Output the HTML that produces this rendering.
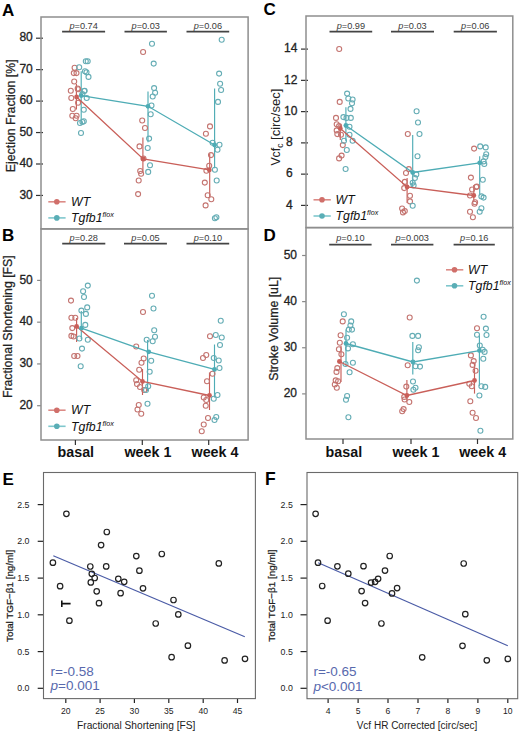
<!DOCTYPE html>
<html><head><meta charset="utf-8"><style>
html,body{margin:0;padding:0;background:#fff;}
body{width:520px;height:733px;overflow:hidden;font-family:"Liberation Sans",sans-serif;}
svg{display:block;font-family:"Liberation Sans",sans-serif;}
</style></head><body>
<svg width="520" height="733" viewBox="0 0 520 733" font-family="Liberation Sans, sans-serif">
<rect width="520" height="733" fill="#fff"/>
<text x="2" y="15.9" font-size="17" font-weight="bold" fill="#000">A</text>
<text x="263.6" y="15.3" font-size="17" font-weight="bold" fill="#000">C</text>
<text x="2" y="241.2" font-size="17" font-weight="bold" fill="#000">B</text>
<text x="263.6" y="240.9" font-size="17" font-weight="bold" fill="#000">D</text>
<text x="2.6" y="484.7" font-size="17" font-weight="bold" fill="#000">E</text>
<text x="264.9" y="484.8" font-size="17.5" font-weight="bold" fill="#000">F</text>
<line x1="36" y1="38.20" x2="43" y2="38.20" stroke="#333" stroke-width="1.2"/>
<text x="32.8" y="41.42" font-size="12" text-anchor="end" fill="#222" stroke="#222" stroke-width="0.3">80</text>
<line x1="36" y1="69.65" x2="43" y2="69.65" stroke="#333" stroke-width="1.2"/>
<text x="32.8" y="72.87" font-size="12" text-anchor="end" fill="#222" stroke="#222" stroke-width="0.3">70</text>
<line x1="36" y1="101.10" x2="43" y2="101.10" stroke="#333" stroke-width="1.2"/>
<text x="32.8" y="104.32" font-size="12" text-anchor="end" fill="#222" stroke="#222" stroke-width="0.3">60</text>
<line x1="36" y1="132.55" x2="43" y2="132.55" stroke="#333" stroke-width="1.2"/>
<text x="32.8" y="135.77" font-size="12" text-anchor="end" fill="#222" stroke="#222" stroke-width="0.3">50</text>
<line x1="36" y1="164.00" x2="43" y2="164.00" stroke="#333" stroke-width="1.2"/>
<text x="32.8" y="167.22" font-size="12" text-anchor="end" fill="#222" stroke="#222" stroke-width="0.3">40</text>
<line x1="36" y1="195.45" x2="43" y2="195.45" stroke="#333" stroke-width="1.2"/>
<text x="32.8" y="198.67" font-size="12" text-anchor="end" fill="#222" stroke="#222" stroke-width="0.3">30</text>
<text x="0" y="0" transform="translate(14.7,115.8) rotate(-90)" font-size="12.3" text-anchor="middle" fill="#222" stroke="#222" stroke-width="0.25">Ejection Fraction [%]</text>
<line x1="62.1" y1="31.7" x2="105.1" y2="31.7" stroke="#444" stroke-width="1.7"/>
<text x="83.6" y="29.3" font-size="9.2" text-anchor="middle" fill="#3a3a3a"><tspan font-style="italic">p</tspan>=0.74</text>
<line x1="124.5" y1="31.7" x2="166.9" y2="31.7" stroke="#444" stroke-width="1.7"/>
<text x="145.7" y="29.3" font-size="9.2" text-anchor="middle" fill="#3a3a3a"><tspan font-style="italic">p</tspan>=0.03</text>
<line x1="186.5" y1="31.7" x2="229.2" y2="31.7" stroke="#444" stroke-width="1.7"/>
<text x="207.85" y="29.3" font-size="9.2" text-anchor="middle" fill="#3a3a3a"><tspan font-style="italic">p</tspan>=0.06</text>
<line x1="81.2" y1="71.2" x2="81.2" y2="124.2" stroke="#4eacb5" stroke-width="1.15"/>
<line x1="76.4" y1="84" x2="76.4" y2="109.5" stroke="#c95f59" stroke-width="1.15"/>
<line x1="148" y1="91.4" x2="148" y2="142.3" stroke="#4eacb5" stroke-width="1.15"/>
<line x1="142.9" y1="137.5" x2="142.9" y2="172.3" stroke="#c95f59" stroke-width="1.15"/>
<line x1="214.6" y1="88.4" x2="214.6" y2="168.2" stroke="#4eacb5" stroke-width="1.15"/>
<line x1="209.7" y1="153.4" x2="209.7" y2="196.9" stroke="#c95f59" stroke-width="1.15"/>
<circle cx="74.6" cy="67.7" r="2.5" fill="none" stroke="#c47470" stroke-width="1.1"/>
<circle cx="73.8" cy="73.1" r="2.5" fill="none" stroke="#c47470" stroke-width="1.1"/>
<circle cx="76.5" cy="73.1" r="2.5" fill="none" stroke="#c47470" stroke-width="1.1"/>
<circle cx="74.2" cy="81.5" r="2.5" fill="none" stroke="#c47470" stroke-width="1.1"/>
<circle cx="77.7" cy="88.5" r="2.5" fill="none" stroke="#c47470" stroke-width="1.1"/>
<circle cx="70.8" cy="90.8" r="2.5" fill="none" stroke="#c47470" stroke-width="1.1"/>
<circle cx="78.1" cy="89.3" r="2.5" fill="none" stroke="#c47470" stroke-width="1.1"/>
<circle cx="71.3" cy="98" r="2.5" fill="none" stroke="#c47470" stroke-width="1.1"/>
<circle cx="78.1" cy="102.8" r="2.5" fill="none" stroke="#c47470" stroke-width="1.1"/>
<circle cx="72.8" cy="109" r="2.5" fill="none" stroke="#c47470" stroke-width="1.1"/>
<circle cx="72.3" cy="115.8" r="2.5" fill="none" stroke="#c47470" stroke-width="1.1"/>
<circle cx="76.6" cy="115.8" r="2.5" fill="none" stroke="#c47470" stroke-width="1.1"/>
<circle cx="75.7" cy="118.2" r="2.5" fill="none" stroke="#c47470" stroke-width="1.1"/>
<circle cx="143.1" cy="52" r="2.5" fill="none" stroke="#c47470" stroke-width="1.1"/>
<circle cx="142.2" cy="120.5" r="2.5" fill="none" stroke="#c47470" stroke-width="1.1"/>
<circle cx="145" cy="128" r="2.5" fill="none" stroke="#c47470" stroke-width="1.1"/>
<circle cx="139.5" cy="146.4" r="2.5" fill="none" stroke="#c47470" stroke-width="1.1"/>
<circle cx="143.5" cy="158.5" r="2.5" fill="none" stroke="#c47470" stroke-width="1.1"/>
<circle cx="140.2" cy="171" r="2.5" fill="none" stroke="#c47470" stroke-width="1.1"/>
<circle cx="141.1" cy="173.7" r="2.5" fill="none" stroke="#c47470" stroke-width="1.1"/>
<circle cx="138.7" cy="180.5" r="2.5" fill="none" stroke="#c47470" stroke-width="1.1"/>
<circle cx="138.1" cy="194.1" r="2.5" fill="none" stroke="#c47470" stroke-width="1.1"/>
<circle cx="210" cy="126.4" r="2.5" fill="none" stroke="#c47470" stroke-width="1.1"/>
<circle cx="205.9" cy="133.8" r="2.5" fill="none" stroke="#c47470" stroke-width="1.1"/>
<circle cx="211" cy="155.1" r="2.5" fill="none" stroke="#c47470" stroke-width="1.1"/>
<circle cx="209.2" cy="165.7" r="2.5" fill="none" stroke="#c47470" stroke-width="1.1"/>
<circle cx="206.4" cy="170.7" r="2.5" fill="none" stroke="#c47470" stroke-width="1.1"/>
<circle cx="204.8" cy="182.6" r="2.5" fill="none" stroke="#c47470" stroke-width="1.1"/>
<circle cx="207.7" cy="195.2" r="2.5" fill="none" stroke="#c47470" stroke-width="1.1"/>
<circle cx="211.3" cy="199.3" r="2.5" fill="none" stroke="#c47470" stroke-width="1.1"/>
<circle cx="205.6" cy="205.4" r="2.5" fill="none" stroke="#c47470" stroke-width="1.1"/>
<circle cx="85.8" cy="61.2" r="2.5" fill="none" stroke="#65adb5" stroke-width="1.1"/>
<circle cx="87.7" cy="61.2" r="2.5" fill="none" stroke="#65adb5" stroke-width="1.1"/>
<circle cx="79.2" cy="67.3" r="2.5" fill="none" stroke="#65adb5" stroke-width="1.1"/>
<circle cx="85" cy="71.2" r="2.5" fill="none" stroke="#65adb5" stroke-width="1.1"/>
<circle cx="86.5" cy="72.3" r="2.5" fill="none" stroke="#65adb5" stroke-width="1.1"/>
<circle cx="88.5" cy="76.9" r="2.5" fill="none" stroke="#65adb5" stroke-width="1.1"/>
<circle cx="84.6" cy="90.8" r="2.5" fill="none" stroke="#65adb5" stroke-width="1.1"/>
<circle cx="84.3" cy="91" r="2.5" fill="none" stroke="#65adb5" stroke-width="1.1"/>
<circle cx="82.4" cy="94.1" r="2.5" fill="none" stroke="#65adb5" stroke-width="1.1"/>
<circle cx="86.7" cy="98" r="2.5" fill="none" stroke="#65adb5" stroke-width="1.1"/>
<circle cx="83.8" cy="109.8" r="2.5" fill="none" stroke="#65adb5" stroke-width="1.1"/>
<circle cx="80" cy="123" r="2.5" fill="none" stroke="#65adb5" stroke-width="1.1"/>
<circle cx="82.4" cy="122" r="2.5" fill="none" stroke="#65adb5" stroke-width="1.1"/>
<circle cx="83.8" cy="121.3" r="2.5" fill="none" stroke="#65adb5" stroke-width="1.1"/>
<circle cx="81" cy="133" r="2.5" fill="none" stroke="#65adb5" stroke-width="1.1"/>
<circle cx="152" cy="43.7" r="2.5" fill="none" stroke="#65adb5" stroke-width="1.1"/>
<circle cx="153.7" cy="63.6" r="2.5" fill="none" stroke="#65adb5" stroke-width="1.1"/>
<circle cx="154.1" cy="88.1" r="2.5" fill="none" stroke="#65adb5" stroke-width="1.1"/>
<circle cx="155.1" cy="92.7" r="2.5" fill="none" stroke="#65adb5" stroke-width="1.1"/>
<circle cx="152.7" cy="96.5" r="2.5" fill="none" stroke="#65adb5" stroke-width="1.1"/>
<circle cx="151.5" cy="105.5" r="2.5" fill="none" stroke="#65adb5" stroke-width="1.1"/>
<circle cx="150.7" cy="114.3" r="2.5" fill="none" stroke="#65adb5" stroke-width="1.1"/>
<circle cx="149.1" cy="138.6" r="2.5" fill="none" stroke="#65adb5" stroke-width="1.1"/>
<circle cx="147.7" cy="148" r="2.5" fill="none" stroke="#65adb5" stroke-width="1.1"/>
<circle cx="150" cy="165.2" r="2.5" fill="none" stroke="#65adb5" stroke-width="1.1"/>
<circle cx="148.2" cy="171.9" r="2.5" fill="none" stroke="#65adb5" stroke-width="1.1"/>
<circle cx="221.7" cy="39.8" r="2.5" fill="none" stroke="#65adb5" stroke-width="1.1"/>
<circle cx="219.1" cy="73.6" r="2.5" fill="none" stroke="#65adb5" stroke-width="1.1"/>
<circle cx="220.1" cy="83.8" r="2.5" fill="none" stroke="#65adb5" stroke-width="1.1"/>
<circle cx="221.1" cy="90" r="2.5" fill="none" stroke="#65adb5" stroke-width="1.1"/>
<circle cx="218" cy="101.9" r="2.5" fill="none" stroke="#65adb5" stroke-width="1.1"/>
<circle cx="212.6" cy="142.8" r="2.5" fill="none" stroke="#65adb5" stroke-width="1.1"/>
<circle cx="219.5" cy="144.8" r="2.5" fill="none" stroke="#65adb5" stroke-width="1.1"/>
<circle cx="217.5" cy="149.8" r="2.5" fill="none" stroke="#65adb5" stroke-width="1.1"/>
<circle cx="214.9" cy="169.8" r="2.5" fill="none" stroke="#65adb5" stroke-width="1.1"/>
<circle cx="216.7" cy="180.5" r="2.5" fill="none" stroke="#65adb5" stroke-width="1.1"/>
<circle cx="214.9" cy="218.2" r="2.5" fill="none" stroke="#65adb5" stroke-width="1.1"/>
<circle cx="216.4" cy="217.2" r="2.5" fill="none" stroke="#65adb5" stroke-width="1.1"/>
<polyline points="81.2,95.6 148,106.3 214.6,145" fill="none" stroke="#4eacb5" stroke-width="1.3"/>
<polyline points="76.6,97 143.2,158.9 209.3,169.9" fill="none" stroke="#c95f59" stroke-width="1.3"/>
<circle cx="81.2" cy="95.6" r="2.4" fill="#4eacb5"/>
<circle cx="148" cy="106.3" r="2.4" fill="#4eacb5"/>
<circle cx="214.6" cy="145" r="2.4" fill="#4eacb5"/>
<circle cx="76.6" cy="97" r="2.4" fill="#c95f59"/>
<circle cx="143.2" cy="158.9" r="2.4" fill="#c95f59"/>
<circle cx="209.3" cy="169.9" r="2.4" fill="#c95f59"/>
<line x1="48.3" y1="201.8" x2="65.6" y2="201.8" stroke="#dc8b86" stroke-width="1.6"/>
<circle cx="56.8" cy="201.8" r="2.8" fill="#d06f6a"/>
<line x1="48.3" y1="217.9" x2="65.6" y2="217.9" stroke="#7fc7cd" stroke-width="1.6"/>
<circle cx="56.8" cy="217.9" r="2.8" fill="#5aaeb6"/>
<text x="71.1" y="206.0" font-size="12.3" font-style="italic" fill="#111">WT</text>
<text x="71.1" y="222.1" font-size="12.3" font-style="italic" fill="#111">Tgfb1<tspan font-size="7.2" dy="-5">flox</tspan></text>
<rect x="41" y="17" width="207.10" height="211.90" fill="none" stroke="#8e8e8e" stroke-width="1.5"/>
<line x1="37.1" y1="280.40" x2="41" y2="280.40" stroke="#888" stroke-width="1.2"/>
<text x="32.8" y="283.62" font-size="12" text-anchor="end" fill="#222" stroke="#222" stroke-width="0.3">50</text>
<line x1="37.1" y1="322.17" x2="41" y2="322.17" stroke="#888" stroke-width="1.2"/>
<text x="32.8" y="325.39" font-size="12" text-anchor="end" fill="#222" stroke="#222" stroke-width="0.3">40</text>
<line x1="37.1" y1="363.94" x2="41" y2="363.94" stroke="#888" stroke-width="1.2"/>
<text x="32.8" y="367.16" font-size="12" text-anchor="end" fill="#222" stroke="#222" stroke-width="0.3">30</text>
<line x1="37.1" y1="405.71" x2="41" y2="405.71" stroke="#888" stroke-width="1.2"/>
<text x="32.8" y="408.93" font-size="12" text-anchor="end" fill="#222" stroke="#222" stroke-width="0.3">20</text>
<text x="0" y="0" transform="translate(11.6,326.7) rotate(-90)" font-size="12.3" text-anchor="middle" fill="#222" stroke="#222" stroke-width="0.25">Fractional Shortening [FS]</text>
<line x1="62.2" y1="243.6" x2="105.3" y2="243.6" stroke="#444" stroke-width="1.7"/>
<text x="83.75" y="241.2" font-size="9.2" text-anchor="middle" fill="#3a3a3a"><tspan font-style="italic">p</tspan>=0.28</text>
<line x1="124" y1="243.6" x2="166.9" y2="243.6" stroke="#444" stroke-width="1.7"/>
<text x="145.45" y="241.2" font-size="9.2" text-anchor="middle" fill="#3a3a3a"><tspan font-style="italic">p</tspan>=0.05</text>
<line x1="186.5" y1="243.6" x2="229.2" y2="243.6" stroke="#444" stroke-width="1.7"/>
<text x="207.85" y="241.2" font-size="9.2" text-anchor="middle" fill="#3a3a3a"><tspan font-style="italic">p</tspan>=0.10</text>
<line x1="81.3" y1="311" x2="81.3" y2="339" stroke="#4eacb5" stroke-width="1.15"/>
<line x1="76.6" y1="318" x2="76.6" y2="342" stroke="#c95f59" stroke-width="1.15"/>
<line x1="147.6" y1="340" x2="147.6" y2="391" stroke="#4eacb5" stroke-width="1.15"/>
<line x1="142.5" y1="369" x2="142.5" y2="395" stroke="#c95f59" stroke-width="1.15"/>
<line x1="214.5" y1="344.5" x2="214.5" y2="397.5" stroke="#4eacb5" stroke-width="1.15"/>
<line x1="209.5" y1="372.5" x2="209.5" y2="410" stroke="#c95f59" stroke-width="1.15"/>
<circle cx="71" cy="300.6" r="2.5" fill="none" stroke="#c47470" stroke-width="1.1"/>
<circle cx="71.4" cy="317.7" r="2.5" fill="none" stroke="#c47470" stroke-width="1.1"/>
<circle cx="75.3" cy="317.7" r="2.5" fill="none" stroke="#c47470" stroke-width="1.1"/>
<circle cx="72.3" cy="328.1" r="2.5" fill="none" stroke="#c47470" stroke-width="1.1"/>
<circle cx="71.4" cy="335.9" r="2.5" fill="none" stroke="#c47470" stroke-width="1.1"/>
<circle cx="73.6" cy="336.5" r="2.5" fill="none" stroke="#c47470" stroke-width="1.1"/>
<circle cx="74.2" cy="356" r="2.5" fill="none" stroke="#c47470" stroke-width="1.1"/>
<circle cx="77.5" cy="356" r="2.5" fill="none" stroke="#c47470" stroke-width="1.1"/>
<circle cx="143" cy="312" r="2.5" fill="none" stroke="#c47470" stroke-width="1.1"/>
<circle cx="136.2" cy="346.5" r="2.5" fill="none" stroke="#c47470" stroke-width="1.1"/>
<circle cx="143.7" cy="358.5" r="2.5" fill="none" stroke="#c47470" stroke-width="1.1"/>
<circle cx="141.5" cy="362.7" r="2.5" fill="none" stroke="#c47470" stroke-width="1.1"/>
<circle cx="139.2" cy="369.7" r="2.5" fill="none" stroke="#c47470" stroke-width="1.1"/>
<circle cx="136.2" cy="380.2" r="2.5" fill="none" stroke="#c47470" stroke-width="1.1"/>
<circle cx="137" cy="384" r="2.5" fill="none" stroke="#c47470" stroke-width="1.1"/>
<circle cx="140" cy="387" r="2.5" fill="none" stroke="#c47470" stroke-width="1.1"/>
<circle cx="144.2" cy="390" r="2.5" fill="none" stroke="#c47470" stroke-width="1.1"/>
<circle cx="138.75" cy="405" r="2.5" fill="none" stroke="#c47470" stroke-width="1.1"/>
<circle cx="137.5" cy="409.5" r="2.5" fill="none" stroke="#c47470" stroke-width="1.1"/>
<circle cx="141.25" cy="413.75" r="2.5" fill="none" stroke="#c47470" stroke-width="1.1"/>
<circle cx="210" cy="336.25" r="2.5" fill="none" stroke="#c47470" stroke-width="1.1"/>
<circle cx="206.25" cy="355" r="2.5" fill="none" stroke="#c47470" stroke-width="1.1"/>
<circle cx="203" cy="358" r="2.5" fill="none" stroke="#c47470" stroke-width="1.1"/>
<circle cx="212.5" cy="373.75" r="2.5" fill="none" stroke="#c47470" stroke-width="1.1"/>
<circle cx="207" cy="381.25" r="2.5" fill="none" stroke="#c47470" stroke-width="1.1"/>
<circle cx="203.75" cy="397.5" r="2.5" fill="none" stroke="#c47470" stroke-width="1.1"/>
<circle cx="206.25" cy="400" r="2.5" fill="none" stroke="#c47470" stroke-width="1.1"/>
<circle cx="205.75" cy="405.75" r="2.5" fill="none" stroke="#c47470" stroke-width="1.1"/>
<circle cx="208" cy="418" r="2.5" fill="none" stroke="#c47470" stroke-width="1.1"/>
<circle cx="203.75" cy="424.5" r="2.5" fill="none" stroke="#c47470" stroke-width="1.1"/>
<circle cx="201.75" cy="431.25" r="2.5" fill="none" stroke="#c47470" stroke-width="1.1"/>
<circle cx="87.8" cy="285.6" r="2.5" fill="none" stroke="#65adb5" stroke-width="1.1"/>
<circle cx="83.1" cy="291.2" r="2.5" fill="none" stroke="#65adb5" stroke-width="1.1"/>
<circle cx="84" cy="297" r="2.5" fill="none" stroke="#65adb5" stroke-width="1.1"/>
<circle cx="87.2" cy="307.4" r="2.5" fill="none" stroke="#65adb5" stroke-width="1.1"/>
<circle cx="81.4" cy="310.6" r="2.5" fill="none" stroke="#65adb5" stroke-width="1.1"/>
<circle cx="85.9" cy="313.9" r="2.5" fill="none" stroke="#65adb5" stroke-width="1.1"/>
<circle cx="85.3" cy="324.9" r="2.5" fill="none" stroke="#65adb5" stroke-width="1.1"/>
<circle cx="79.4" cy="338.5" r="2.5" fill="none" stroke="#65adb5" stroke-width="1.1"/>
<circle cx="87.8" cy="339.8" r="2.5" fill="none" stroke="#65adb5" stroke-width="1.1"/>
<circle cx="82" cy="348.6" r="2.5" fill="none" stroke="#65adb5" stroke-width="1.1"/>
<circle cx="80.7" cy="366.3" r="2.5" fill="none" stroke="#65adb5" stroke-width="1.1"/>
<circle cx="152" cy="295.8" r="2.5" fill="none" stroke="#65adb5" stroke-width="1.1"/>
<circle cx="153.5" cy="308.5" r="2.5" fill="none" stroke="#65adb5" stroke-width="1.1"/>
<circle cx="154.2" cy="330.3" r="2.5" fill="none" stroke="#65adb5" stroke-width="1.1"/>
<circle cx="155" cy="336.7" r="2.5" fill="none" stroke="#65adb5" stroke-width="1.1"/>
<circle cx="152.7" cy="341.2" r="2.5" fill="none" stroke="#65adb5" stroke-width="1.1"/>
<circle cx="146.7" cy="339.7" r="2.5" fill="none" stroke="#65adb5" stroke-width="1.1"/>
<circle cx="151.2" cy="360.7" r="2.5" fill="none" stroke="#65adb5" stroke-width="1.1"/>
<circle cx="149.7" cy="371.7" r="2.5" fill="none" stroke="#65adb5" stroke-width="1.1"/>
<circle cx="148.2" cy="386.2" r="2.5" fill="none" stroke="#65adb5" stroke-width="1.1"/>
<circle cx="146" cy="390" r="2.5" fill="none" stroke="#65adb5" stroke-width="1.1"/>
<circle cx="147.5" cy="403.75" r="2.5" fill="none" stroke="#65adb5" stroke-width="1.1"/>
<circle cx="220.75" cy="320.75" r="2.5" fill="none" stroke="#65adb5" stroke-width="1.1"/>
<circle cx="215.75" cy="335" r="2.5" fill="none" stroke="#65adb5" stroke-width="1.1"/>
<circle cx="221.75" cy="337.5" r="2.5" fill="none" stroke="#65adb5" stroke-width="1.1"/>
<circle cx="220" cy="345" r="2.5" fill="none" stroke="#65adb5" stroke-width="1.1"/>
<circle cx="213.75" cy="358" r="2.5" fill="none" stroke="#65adb5" stroke-width="1.1"/>
<circle cx="218.75" cy="360.5" r="2.5" fill="none" stroke="#65adb5" stroke-width="1.1"/>
<circle cx="219.5" cy="368" r="2.5" fill="none" stroke="#65adb5" stroke-width="1.1"/>
<circle cx="217.5" cy="395" r="2.5" fill="none" stroke="#65adb5" stroke-width="1.1"/>
<circle cx="213.75" cy="398.75" r="2.5" fill="none" stroke="#65adb5" stroke-width="1.1"/>
<circle cx="216.25" cy="417" r="2.5" fill="none" stroke="#65adb5" stroke-width="1.1"/>
<circle cx="214.5" cy="420" r="2.5" fill="none" stroke="#65adb5" stroke-width="1.1"/>
<polyline points="81.4,328.2 148.7,351.8 214.5,369.4" fill="none" stroke="#4eacb5" stroke-width="1.3"/>
<polyline points="76.6,326.5 142.5,381.5 209.5,395.5" fill="none" stroke="#c95f59" stroke-width="1.3"/>
<circle cx="81.4" cy="328.2" r="2.4" fill="#4eacb5"/>
<circle cx="148.7" cy="351.8" r="2.4" fill="#4eacb5"/>
<circle cx="214.5" cy="369.4" r="2.4" fill="#4eacb5"/>
<circle cx="76.6" cy="326.5" r="2.4" fill="#c95f59"/>
<circle cx="142.5" cy="381.5" r="2.4" fill="#c95f59"/>
<circle cx="209.5" cy="395.5" r="2.4" fill="#c95f59"/>
<line x1="48.3" y1="410.2" x2="65.6" y2="410.2" stroke="#dc8b86" stroke-width="1.6"/>
<circle cx="56.8" cy="410.2" r="2.8" fill="#d06f6a"/>
<line x1="48.3" y1="426.3" x2="65.6" y2="426.3" stroke="#7fc7cd" stroke-width="1.6"/>
<circle cx="56.8" cy="426.3" r="2.8" fill="#5aaeb6"/>
<text x="71.1" y="414.4" font-size="12.3" font-style="italic" fill="#111">WT</text>
<text x="71.1" y="430.5" font-size="12.3" font-style="italic" fill="#111">Tgfb1<tspan font-size="7.2" dy="-5">flox</tspan></text>
<rect x="41" y="228.9" width="207.10" height="211.10" fill="none" stroke="#8e8e8e" stroke-width="1.5"/>
<line x1="75.4" y1="440" x2="75.4" y2="445" stroke="#333" stroke-width="1.2"/>
<line x1="142.3" y1="440" x2="142.3" y2="445" stroke="#333" stroke-width="1.2"/>
<line x1="208.7" y1="440" x2="208.7" y2="445" stroke="#333" stroke-width="1.2"/>
<text x="75.8" y="456.7" font-size="14.3" font-weight="bold" text-anchor="middle" fill="#111">basal</text>
<text x="147.9" y="456.7" font-size="14.3" font-weight="bold" text-anchor="middle" fill="#111">week 1</text>
<text x="215" y="456.7" font-size="14.3" font-weight="bold" text-anchor="middle" fill="#111">week 4</text>
<line x1="301" y1="49.10" x2="308" y2="49.10" stroke="#333" stroke-width="1.2"/>
<text x="290.8" y="52.32" font-size="12" text-anchor="middle" fill="#222" stroke="#222" stroke-width="0.3">14</text>
<line x1="301" y1="80.36" x2="308" y2="80.36" stroke="#333" stroke-width="1.2"/>
<text x="290.8" y="83.58" font-size="12" text-anchor="middle" fill="#222" stroke="#222" stroke-width="0.3">12</text>
<line x1="301" y1="111.62" x2="308" y2="111.62" stroke="#333" stroke-width="1.2"/>
<text x="290.8" y="114.84" font-size="12" text-anchor="middle" fill="#222" stroke="#222" stroke-width="0.3">10</text>
<line x1="301" y1="142.88" x2="308" y2="142.88" stroke="#333" stroke-width="1.2"/>
<text x="289.4" y="146.10" font-size="12" text-anchor="middle" fill="#222" stroke="#222" stroke-width="0.3">8</text>
<line x1="301" y1="174.14" x2="308" y2="174.14" stroke="#333" stroke-width="1.2"/>
<text x="289.4" y="177.36" font-size="12" text-anchor="middle" fill="#222" stroke="#222" stroke-width="0.3">6</text>
<line x1="301" y1="205.40" x2="308" y2="205.40" stroke="#333" stroke-width="1.2"/>
<text x="289.4" y="208.62" font-size="12" text-anchor="middle" fill="#222" stroke="#222" stroke-width="0.3">4</text>
<text x="0" y="0" transform="translate(279.7,165.6) rotate(-90)" font-size="12.3" fill="#222">Vcf<tspan font-size="8.5" dy="3.5">c</tspan><tspan dy="-3.5" font-size="13"> [circ/sec]</tspan></text>
<line x1="329.5" y1="31.7" x2="372.2" y2="31.7" stroke="#444" stroke-width="1.7"/>
<text x="350.85" y="29.3" font-size="9.2" text-anchor="middle" fill="#3a3a3a"><tspan font-style="italic">p</tspan>=0.99</text>
<line x1="391" y1="31.7" x2="434" y2="31.7" stroke="#444" stroke-width="1.7"/>
<text x="412.5" y="29.3" font-size="9.2" text-anchor="middle" fill="#3a3a3a"><tspan font-style="italic">p</tspan>=0.03</text>
<line x1="453.7" y1="31.7" x2="496.9" y2="31.7" stroke="#444" stroke-width="1.7"/>
<text x="475.29999999999995" y="29.3" font-size="9.2" text-anchor="middle" fill="#3a3a3a"><tspan font-style="italic">p</tspan>=0.06</text>
<line x1="345.9" y1="107.3" x2="345.9" y2="141" stroke="#4eacb5" stroke-width="1.15"/>
<line x1="340.3" y1="124" x2="340.3" y2="140" stroke="#c95f59" stroke-width="1.15"/>
<line x1="412.7" y1="134.9" x2="412.7" y2="187" stroke="#4eacb5" stroke-width="1.15"/>
<line x1="407.1" y1="178" x2="407.1" y2="203" stroke="#c95f59" stroke-width="1.15"/>
<line x1="479.7" y1="156.3" x2="479.7" y2="195.5" stroke="#4eacb5" stroke-width="1.15"/>
<line x1="473.8" y1="185" x2="473.8" y2="202" stroke="#c95f59" stroke-width="1.15"/>
<circle cx="339.2" cy="49" r="2.5" fill="none" stroke="#c47470" stroke-width="1.1"/>
<circle cx="339.7" cy="101.9" r="2.5" fill="none" stroke="#c47470" stroke-width="1.1"/>
<circle cx="336" cy="117.9" r="2.5" fill="none" stroke="#c47470" stroke-width="1.1"/>
<circle cx="336.7" cy="124.3" r="2.5" fill="none" stroke="#c47470" stroke-width="1.1"/>
<circle cx="339.1" cy="126.1" r="2.5" fill="none" stroke="#c47470" stroke-width="1.1"/>
<circle cx="336.7" cy="130.4" r="2.5" fill="none" stroke="#c47470" stroke-width="1.1"/>
<circle cx="337.3" cy="134.1" r="2.5" fill="none" stroke="#c47470" stroke-width="1.1"/>
<circle cx="341" cy="134.7" r="2.5" fill="none" stroke="#c47470" stroke-width="1.1"/>
<circle cx="342.8" cy="145.1" r="2.5" fill="none" stroke="#c47470" stroke-width="1.1"/>
<circle cx="341.6" cy="155.6" r="2.5" fill="none" stroke="#c47470" stroke-width="1.1"/>
<circle cx="339.1" cy="158.4" r="2.5" fill="none" stroke="#c47470" stroke-width="1.1"/>
<circle cx="407.8" cy="134" r="2.5" fill="none" stroke="#c47470" stroke-width="1.1"/>
<circle cx="408.8" cy="169.1" r="2.5" fill="none" stroke="#c47470" stroke-width="1.1"/>
<circle cx="406" cy="173" r="2.5" fill="none" stroke="#c47470" stroke-width="1.1"/>
<circle cx="404.8" cy="181.9" r="2.5" fill="none" stroke="#c47470" stroke-width="1.1"/>
<circle cx="404.2" cy="188.1" r="2.5" fill="none" stroke="#c47470" stroke-width="1.1"/>
<circle cx="410" cy="195.7" r="2.5" fill="none" stroke="#c47470" stroke-width="1.1"/>
<circle cx="410" cy="201.4" r="2.5" fill="none" stroke="#c47470" stroke-width="1.1"/>
<circle cx="402.1" cy="208.5" r="2.5" fill="none" stroke="#c47470" stroke-width="1.1"/>
<circle cx="404.8" cy="211.1" r="2.5" fill="none" stroke="#c47470" stroke-width="1.1"/>
<circle cx="403" cy="212.4" r="2.5" fill="none" stroke="#c47470" stroke-width="1.1"/>
<circle cx="474.1" cy="148.6" r="2.5" fill="none" stroke="#c47470" stroke-width="1.1"/>
<circle cx="470.9" cy="177.6" r="2.5" fill="none" stroke="#c47470" stroke-width="1.1"/>
<circle cx="476.3" cy="187" r="2.5" fill="none" stroke="#c47470" stroke-width="1.1"/>
<circle cx="472.1" cy="189.5" r="2.5" fill="none" stroke="#c47470" stroke-width="1.1"/>
<circle cx="470" cy="195.5" r="2.5" fill="none" stroke="#c47470" stroke-width="1.1"/>
<circle cx="475.1" cy="202.3" r="2.5" fill="none" stroke="#c47470" stroke-width="1.1"/>
<circle cx="470" cy="211.7" r="2.5" fill="none" stroke="#c47470" stroke-width="1.1"/>
<circle cx="472.9" cy="217.3" r="2.5" fill="none" stroke="#c47470" stroke-width="1.1"/>
<circle cx="474.5" cy="203.8" r="2.5" fill="none" stroke="#c47470" stroke-width="1.1"/>
<circle cx="476.8" cy="186.5" r="2.5" fill="none" stroke="#c47470" stroke-width="1.1"/>
<circle cx="347.1" cy="93.6" r="2.5" fill="none" stroke="#65adb5" stroke-width="1.1"/>
<circle cx="348.3" cy="98.5" r="2.5" fill="none" stroke="#65adb5" stroke-width="1.1"/>
<circle cx="352.6" cy="99.5" r="2.5" fill="none" stroke="#65adb5" stroke-width="1.1"/>
<circle cx="352" cy="103.2" r="2.5" fill="none" stroke="#65adb5" stroke-width="1.1"/>
<circle cx="350.5" cy="108.9" r="2.5" fill="none" stroke="#65adb5" stroke-width="1.1"/>
<circle cx="343.4" cy="117.1" r="2.5" fill="none" stroke="#65adb5" stroke-width="1.1"/>
<circle cx="346.5" cy="117.9" r="2.5" fill="none" stroke="#65adb5" stroke-width="1.1"/>
<circle cx="350.8" cy="117.9" r="2.5" fill="none" stroke="#65adb5" stroke-width="1.1"/>
<circle cx="349.5" cy="126.7" r="2.5" fill="none" stroke="#65adb5" stroke-width="1.1"/>
<circle cx="349.5" cy="134.7" r="2.5" fill="none" stroke="#65adb5" stroke-width="1.1"/>
<circle cx="344" cy="140.8" r="2.5" fill="none" stroke="#65adb5" stroke-width="1.1"/>
<circle cx="352.6" cy="140.8" r="2.5" fill="none" stroke="#65adb5" stroke-width="1.1"/>
<circle cx="346.8" cy="150" r="2.5" fill="none" stroke="#65adb5" stroke-width="1.1"/>
<circle cx="345.6" cy="169" r="2.5" fill="none" stroke="#65adb5" stroke-width="1.1"/>
<circle cx="416.6" cy="111.3" r="2.5" fill="none" stroke="#65adb5" stroke-width="1.1"/>
<circle cx="418" cy="122.5" r="2.5" fill="none" stroke="#65adb5" stroke-width="1.1"/>
<circle cx="419.5" cy="134" r="2.5" fill="none" stroke="#65adb5" stroke-width="1.1"/>
<circle cx="417.5" cy="156.2" r="2.5" fill="none" stroke="#65adb5" stroke-width="1.1"/>
<circle cx="416.3" cy="174.4" r="2.5" fill="none" stroke="#65adb5" stroke-width="1.1"/>
<circle cx="414.9" cy="178" r="2.5" fill="none" stroke="#65adb5" stroke-width="1.1"/>
<circle cx="412.7" cy="182.8" r="2.5" fill="none" stroke="#65adb5" stroke-width="1.1"/>
<circle cx="413.6" cy="185.4" r="2.5" fill="none" stroke="#65adb5" stroke-width="1.1"/>
<circle cx="412.7" cy="205.8" r="2.5" fill="none" stroke="#65adb5" stroke-width="1.1"/>
<circle cx="480.2" cy="146.4" r="2.5" fill="none" stroke="#65adb5" stroke-width="1.1"/>
<circle cx="485.7" cy="147.4" r="2.5" fill="none" stroke="#65adb5" stroke-width="1.1"/>
<circle cx="486.2" cy="154.2" r="2.5" fill="none" stroke="#65adb5" stroke-width="1.1"/>
<circle cx="485.4" cy="157.1" r="2.5" fill="none" stroke="#65adb5" stroke-width="1.1"/>
<circle cx="483.6" cy="161.4" r="2.5" fill="none" stroke="#65adb5" stroke-width="1.1"/>
<circle cx="484.3" cy="164" r="2.5" fill="none" stroke="#65adb5" stroke-width="1.1"/>
<circle cx="482.8" cy="179.8" r="2.5" fill="none" stroke="#65adb5" stroke-width="1.1"/>
<circle cx="481.4" cy="196.4" r="2.5" fill="none" stroke="#65adb5" stroke-width="1.1"/>
<circle cx="483.6" cy="197.6" r="2.5" fill="none" stroke="#65adb5" stroke-width="1.1"/>
<circle cx="481.4" cy="208.3" r="2.5" fill="none" stroke="#65adb5" stroke-width="1.1"/>
<circle cx="479.7" cy="211.7" r="2.5" fill="none" stroke="#65adb5" stroke-width="1.1"/>
<polyline points="345.9,125.5 412.7,172.5 479.7,162.8" fill="none" stroke="#4eacb5" stroke-width="1.3"/>
<polyline points="340.3,128.5 407.1,187 473.8,195.5" fill="none" stroke="#c95f59" stroke-width="1.3"/>
<circle cx="345.9" cy="125.5" r="2.4" fill="#4eacb5"/>
<circle cx="412.7" cy="172.5" r="2.4" fill="#4eacb5"/>
<circle cx="479.7" cy="162.8" r="2.4" fill="#4eacb5"/>
<circle cx="340.3" cy="128.5" r="2.4" fill="#c95f59"/>
<circle cx="407.1" cy="187" r="2.4" fill="#c95f59"/>
<circle cx="473.8" cy="195.5" r="2.4" fill="#c95f59"/>
<line x1="313.5" y1="199.8" x2="330.8" y2="199.8" stroke="#dc8b86" stroke-width="1.6"/>
<circle cx="322.0" cy="199.8" r="2.8" fill="#d06f6a"/>
<line x1="313.5" y1="216" x2="330.8" y2="216" stroke="#7fc7cd" stroke-width="1.6"/>
<circle cx="322.0" cy="216" r="2.8" fill="#5aaeb6"/>
<text x="335.6" y="204.0" font-size="12.3" font-style="italic" fill="#111">WT</text>
<text x="335.6" y="220.2" font-size="12.3" font-style="italic" fill="#111">Tgfb1<tspan font-size="7.2" dy="-5">flox</tspan></text>
<rect x="306" y="16" width="206.80" height="211.60" fill="none" stroke="#8e8e8e" stroke-width="1.5"/>
<line x1="302.1" y1="255.50" x2="306" y2="255.50" stroke="#888" stroke-width="1.2"/>
<text x="297" y="258.72" font-size="12" text-anchor="end" fill="#222" stroke="#222" stroke-width="0.3">50</text>
<line x1="302.1" y1="301.63" x2="306" y2="301.63" stroke="#888" stroke-width="1.2"/>
<text x="297" y="304.85" font-size="12" text-anchor="end" fill="#222" stroke="#222" stroke-width="0.3">40</text>
<line x1="302.1" y1="347.76" x2="306" y2="347.76" stroke="#888" stroke-width="1.2"/>
<text x="297" y="350.98" font-size="12" text-anchor="end" fill="#222" stroke="#222" stroke-width="0.3">30</text>
<line x1="302.1" y1="393.89" x2="306" y2="393.89" stroke="#888" stroke-width="1.2"/>
<text x="297" y="397.11" font-size="12" text-anchor="end" fill="#222" stroke="#222" stroke-width="0.3">20</text>
<text x="0" y="0" transform="translate(278,328.8) rotate(-90)" font-size="12.3" text-anchor="middle" fill="#222" stroke="#222" stroke-width="0.25">Stroke Volume [uL]</text>
<line x1="329.2" y1="244.7" x2="371.6" y2="244.7" stroke="#444" stroke-width="1.7"/>
<text x="350.4" y="241.3" font-size="9.2" text-anchor="middle" fill="#3a3a3a"><tspan font-style="italic">p</tspan>=0.10</text>
<line x1="391" y1="244.7" x2="433.4" y2="244.7" stroke="#444" stroke-width="1.7"/>
<text x="412.2" y="241.3" font-size="9.2" text-anchor="middle" fill="#3a3a3a"><tspan font-style="italic">p</tspan>=0.003</text>
<line x1="453.6" y1="244.7" x2="494.8" y2="244.7" stroke="#444" stroke-width="1.7"/>
<text x="474.20000000000005" y="241.3" font-size="9.2" text-anchor="middle" fill="#3a3a3a"><tspan font-style="italic">p</tspan>=0.16</text>
<line x1="346" y1="329.6" x2="346" y2="365.7" stroke="#4eacb5" stroke-width="1.15"/>
<line x1="341" y1="346" x2="341" y2="382" stroke="#c95f59" stroke-width="1.15"/>
<line x1="412.8" y1="342" x2="412.8" y2="374.4" stroke="#4eacb5" stroke-width="1.15"/>
<line x1="406.9" y1="380" x2="406.9" y2="400" stroke="#c95f59" stroke-width="1.15"/>
<line x1="479.4" y1="335.3" x2="479.4" y2="386" stroke="#4eacb5" stroke-width="1.15"/>
<line x1="474.5" y1="363" x2="474.5" y2="393.6" stroke="#c95f59" stroke-width="1.15"/>
<circle cx="342.7" cy="321.4" r="2.5" fill="none" stroke="#c47470" stroke-width="1.1"/>
<circle cx="340.6" cy="335.3" r="2.5" fill="none" stroke="#c47470" stroke-width="1.1"/>
<circle cx="339.8" cy="342.7" r="2.5" fill="none" stroke="#c47470" stroke-width="1.1"/>
<circle cx="338.9" cy="349.3" r="2.5" fill="none" stroke="#c47470" stroke-width="1.1"/>
<circle cx="341.4" cy="354.2" r="2.5" fill="none" stroke="#c47470" stroke-width="1.1"/>
<circle cx="337.3" cy="368.1" r="2.5" fill="none" stroke="#c47470" stroke-width="1.1"/>
<circle cx="336.5" cy="371.9" r="2.5" fill="none" stroke="#c47470" stroke-width="1.1"/>
<circle cx="335.7" cy="380.4" r="2.5" fill="none" stroke="#c47470" stroke-width="1.1"/>
<circle cx="338.1" cy="381.2" r="2.5" fill="none" stroke="#c47470" stroke-width="1.1"/>
<circle cx="334.8" cy="384.5" r="2.5" fill="none" stroke="#c47470" stroke-width="1.1"/>
<circle cx="336.8" cy="387.8" r="2.5" fill="none" stroke="#c47470" stroke-width="1.1"/>
<circle cx="409.7" cy="317.5" r="2.5" fill="none" stroke="#c47470" stroke-width="1.1"/>
<circle cx="407.7" cy="365.2" r="2.5" fill="none" stroke="#c47470" stroke-width="1.1"/>
<circle cx="406.3" cy="386.6" r="2.5" fill="none" stroke="#c47470" stroke-width="1.1"/>
<circle cx="404.6" cy="399.5" r="2.5" fill="none" stroke="#c47470" stroke-width="1.1"/>
<circle cx="404.2" cy="396.9" r="2.5" fill="none" stroke="#c47470" stroke-width="1.1"/>
<circle cx="409.3" cy="402" r="2.5" fill="none" stroke="#c47470" stroke-width="1.1"/>
<circle cx="403.6" cy="409.1" r="2.5" fill="none" stroke="#c47470" stroke-width="1.1"/>
<circle cx="402.2" cy="411.2" r="2.5" fill="none" stroke="#c47470" stroke-width="1.1"/>
<circle cx="477" cy="328.3" r="2.5" fill="none" stroke="#c47470" stroke-width="1.1"/>
<circle cx="470.9" cy="355.4" r="2.5" fill="none" stroke="#c47470" stroke-width="1.1"/>
<circle cx="473.7" cy="361.1" r="2.5" fill="none" stroke="#c47470" stroke-width="1.1"/>
<circle cx="472.6" cy="364.9" r="2.5" fill="none" stroke="#c47470" stroke-width="1.1"/>
<circle cx="475.6" cy="370.7" r="2.5" fill="none" stroke="#c47470" stroke-width="1.1"/>
<circle cx="469.3" cy="383.7" r="2.5" fill="none" stroke="#c47470" stroke-width="1.1"/>
<circle cx="471.8" cy="386.3" r="2.5" fill="none" stroke="#c47470" stroke-width="1.1"/>
<circle cx="470.3" cy="401.2" r="2.5" fill="none" stroke="#c47470" stroke-width="1.1"/>
<circle cx="472.6" cy="412.7" r="2.5" fill="none" stroke="#c47470" stroke-width="1.1"/>
<circle cx="476" cy="418" r="2.5" fill="none" stroke="#c47470" stroke-width="1.1"/>
<circle cx="343.9" cy="314.3" r="2.5" fill="none" stroke="#65adb5" stroke-width="1.1"/>
<circle cx="351.2" cy="321.4" r="2.5" fill="none" stroke="#65adb5" stroke-width="1.1"/>
<circle cx="350.4" cy="325.5" r="2.5" fill="none" stroke="#65adb5" stroke-width="1.1"/>
<circle cx="352" cy="329.6" r="2.5" fill="none" stroke="#65adb5" stroke-width="1.1"/>
<circle cx="348.8" cy="329.6" r="2.5" fill="none" stroke="#65adb5" stroke-width="1.1"/>
<circle cx="347.1" cy="337.8" r="2.5" fill="none" stroke="#65adb5" stroke-width="1.1"/>
<circle cx="352.9" cy="344.3" r="2.5" fill="none" stroke="#65adb5" stroke-width="1.1"/>
<circle cx="348" cy="348.4" r="2.5" fill="none" stroke="#65adb5" stroke-width="1.1"/>
<circle cx="352.9" cy="362.7" r="2.5" fill="none" stroke="#65adb5" stroke-width="1.1"/>
<circle cx="345.5" cy="364" r="2.5" fill="none" stroke="#65adb5" stroke-width="1.1"/>
<circle cx="349.6" cy="372.2" r="2.5" fill="none" stroke="#65adb5" stroke-width="1.1"/>
<circle cx="347.1" cy="396" r="2.5" fill="none" stroke="#65adb5" stroke-width="1.1"/>
<circle cx="346" cy="399.8" r="2.5" fill="none" stroke="#65adb5" stroke-width="1.1"/>
<circle cx="348.4" cy="417.3" r="2.5" fill="none" stroke="#65adb5" stroke-width="1.1"/>
<circle cx="416.9" cy="280.6" r="2.5" fill="none" stroke="#65adb5" stroke-width="1.1"/>
<circle cx="412.4" cy="335.9" r="2.5" fill="none" stroke="#65adb5" stroke-width="1.1"/>
<circle cx="418.1" cy="335.9" r="2.5" fill="none" stroke="#65adb5" stroke-width="1.1"/>
<circle cx="418.9" cy="347.3" r="2.5" fill="none" stroke="#65adb5" stroke-width="1.1"/>
<circle cx="418.1" cy="350.2" r="2.5" fill="none" stroke="#65adb5" stroke-width="1.1"/>
<circle cx="415.5" cy="366.2" r="2.5" fill="none" stroke="#65adb5" stroke-width="1.1"/>
<circle cx="420" cy="366.6" r="2.5" fill="none" stroke="#65adb5" stroke-width="1.1"/>
<circle cx="413" cy="381.5" r="2.5" fill="none" stroke="#65adb5" stroke-width="1.1"/>
<circle cx="415.5" cy="387.7" r="2.5" fill="none" stroke="#65adb5" stroke-width="1.1"/>
<circle cx="413.4" cy="389.7" r="2.5" fill="none" stroke="#65adb5" stroke-width="1.1"/>
<circle cx="483.6" cy="316.8" r="2.5" fill="none" stroke="#65adb5" stroke-width="1.1"/>
<circle cx="485.9" cy="328.6" r="2.5" fill="none" stroke="#65adb5" stroke-width="1.1"/>
<circle cx="477" cy="334.8" r="2.5" fill="none" stroke="#65adb5" stroke-width="1.1"/>
<circle cx="486.5" cy="335" r="2.5" fill="none" stroke="#65adb5" stroke-width="1.1"/>
<circle cx="479.8" cy="345.5" r="2.5" fill="none" stroke="#65adb5" stroke-width="1.1"/>
<circle cx="482.7" cy="349.7" r="2.5" fill="none" stroke="#65adb5" stroke-width="1.1"/>
<circle cx="484.6" cy="351.9" r="2.5" fill="none" stroke="#65adb5" stroke-width="1.1"/>
<circle cx="483.3" cy="358.8" r="2.5" fill="none" stroke="#65adb5" stroke-width="1.1"/>
<circle cx="481.4" cy="386.3" r="2.5" fill="none" stroke="#65adb5" stroke-width="1.1"/>
<circle cx="485.2" cy="386.9" r="2.5" fill="none" stroke="#65adb5" stroke-width="1.1"/>
<circle cx="479.4" cy="395.5" r="2.5" fill="none" stroke="#65adb5" stroke-width="1.1"/>
<circle cx="480.4" cy="430.8" r="2.5" fill="none" stroke="#65adb5" stroke-width="1.1"/>
<polyline points="346,343.5 413,362 479.4,350.6" fill="none" stroke="#4eacb5" stroke-width="1.3"/>
<polyline points="339.4,361.5 406.9,395.5 474.5,380.5" fill="none" stroke="#c95f59" stroke-width="1.3"/>
<circle cx="346" cy="343.5" r="2.4" fill="#4eacb5"/>
<circle cx="413" cy="362" r="2.4" fill="#4eacb5"/>
<circle cx="479.4" cy="350.6" r="2.4" fill="#4eacb5"/>
<circle cx="339.4" cy="361.5" r="2.4" fill="#c95f59"/>
<circle cx="406.9" cy="395.5" r="2.4" fill="#c95f59"/>
<circle cx="474.5" cy="380.5" r="2.4" fill="#c95f59"/>
<line x1="446" y1="269.8" x2="463.3" y2="269.8" stroke="#dc8b86" stroke-width="1.6"/>
<circle cx="454.5" cy="269.8" r="2.8" fill="#d06f6a"/>
<line x1="446" y1="285.8" x2="463.3" y2="285.8" stroke="#7fc7cd" stroke-width="1.6"/>
<circle cx="454.5" cy="285.8" r="2.8" fill="#5aaeb6"/>
<text x="468.1" y="274.0" font-size="12.3" font-style="italic" fill="#111">WT</text>
<text x="468.1" y="290.0" font-size="12.3" font-style="italic" fill="#111">Tgfb1<tspan font-size="7.2" dy="-5">flox</tspan></text>
<rect x="306" y="227.6" width="206.80" height="211.40" fill="none" stroke="#8e8e8e" stroke-width="1.5"/>
<line x1="343" y1="439" x2="343" y2="444" stroke="#333" stroke-width="1.2"/>
<line x1="411" y1="439" x2="411" y2="444" stroke="#333" stroke-width="1.2"/>
<line x1="477.5" y1="439" x2="477.5" y2="444" stroke="#333" stroke-width="1.2"/>
<text x="343.9" y="456.5" font-size="14.3" font-weight="bold" text-anchor="middle" fill="#111">basal</text>
<text x="416" y="456.5" font-size="14.3" font-weight="bold" text-anchor="middle" fill="#111">week 1</text>
<text x="482.7" y="456.5" font-size="14.3" font-weight="bold" text-anchor="middle" fill="#111">week 4</text>
<line x1="37.7" y1="688.3" x2="43.5" y2="688.3" stroke="#222" stroke-width="1.2"/>
<text x="29.5" y="691.4" font-size="8.8" text-anchor="end" fill="#222">0.0</text>
<line x1="37.7" y1="651.6" x2="43.5" y2="651.6" stroke="#222" stroke-width="1.2"/>
<text x="29.5" y="654.7" font-size="8.8" text-anchor="end" fill="#222">0.5</text>
<line x1="37.7" y1="614.8" x2="43.5" y2="614.8" stroke="#222" stroke-width="1.2"/>
<text x="29.5" y="617.9" font-size="8.8" text-anchor="end" fill="#222">1.0</text>
<line x1="37.7" y1="578.1" x2="43.5" y2="578.1" stroke="#222" stroke-width="1.2"/>
<text x="29.5" y="581.2" font-size="8.8" text-anchor="end" fill="#222">1.5</text>
<line x1="37.7" y1="541.3" x2="43.5" y2="541.3" stroke="#222" stroke-width="1.2"/>
<text x="29.5" y="544.4" font-size="8.8" text-anchor="end" fill="#222">2.0</text>
<line x1="37.7" y1="504.6" x2="43.5" y2="504.6" stroke="#222" stroke-width="1.2"/>
<text x="29.5" y="507.7" font-size="8.8" text-anchor="end" fill="#222">2.5</text>
<line x1="65.8" y1="698.5" x2="65.8" y2="703" stroke="#222" stroke-width="1.2"/>
<text x="65.8" y="713.8" font-size="8.6" text-anchor="middle" fill="#222">20</text>
<line x1="100.1" y1="698.5" x2="100.1" y2="703" stroke="#222" stroke-width="1.2"/>
<text x="100.1" y="713.8" font-size="8.6" text-anchor="middle" fill="#222">25</text>
<line x1="134.4" y1="698.5" x2="134.4" y2="703" stroke="#222" stroke-width="1.2"/>
<text x="134.4" y="713.8" font-size="8.6" text-anchor="middle" fill="#222">30</text>
<line x1="168.8" y1="698.5" x2="168.8" y2="703" stroke="#222" stroke-width="1.2"/>
<text x="168.8" y="713.8" font-size="8.6" text-anchor="middle" fill="#222">35</text>
<line x1="203.2" y1="698.5" x2="203.2" y2="703" stroke="#222" stroke-width="1.2"/>
<text x="203.2" y="713.8" font-size="8.6" text-anchor="middle" fill="#222">40</text>
<line x1="237.5" y1="698.5" x2="237.5" y2="703" stroke="#222" stroke-width="1.2"/>
<text x="237.5" y="713.8" font-size="8.6" text-anchor="middle" fill="#222">45</text>
<text x="0" y="0" transform="translate(12.6,595.9) rotate(-90)" font-size="9.85" text-anchor="middle" fill="#222" stroke="#222" stroke-width="0.25">Total TGF−β1 [ng/ml]</text>
<text x="136.2" y="728.7" font-size="10.2" text-anchor="middle" fill="#222">Fractional Shortening [FS]</text>
<line x1="53.3" y1="555.7" x2="244.8" y2="636.8" stroke="#4a5ba6" stroke-width="1.2"/>
<circle cx="66.4" cy="513.8" r="2.75" fill="none" stroke="#222" stroke-width="1.2"/>
<circle cx="106.8" cy="532" r="2.75" fill="none" stroke="#222" stroke-width="1.2"/>
<circle cx="101.1" cy="545.1" r="2.75" fill="none" stroke="#222" stroke-width="1.2"/>
<circle cx="136.3" cy="556.1" r="2.75" fill="none" stroke="#222" stroke-width="1.2"/>
<circle cx="52.9" cy="562.7" r="2.75" fill="none" stroke="#222" stroke-width="1.2"/>
<circle cx="90.3" cy="566.5" r="2.75" fill="none" stroke="#222" stroke-width="1.2"/>
<circle cx="106.2" cy="566.4" r="2.75" fill="none" stroke="#222" stroke-width="1.2"/>
<circle cx="139.4" cy="570.7" r="2.75" fill="none" stroke="#222" stroke-width="1.2"/>
<circle cx="91.8" cy="573.8" r="2.75" fill="none" stroke="#222" stroke-width="1.2"/>
<circle cx="94.7" cy="578" r="2.75" fill="none" stroke="#222" stroke-width="1.2"/>
<circle cx="118.3" cy="578.8" r="2.75" fill="none" stroke="#222" stroke-width="1.2"/>
<circle cx="124.2" cy="581.8" r="2.75" fill="none" stroke="#222" stroke-width="1.2"/>
<circle cx="90.8" cy="582.4" r="2.75" fill="none" stroke="#222" stroke-width="1.2"/>
<circle cx="60.1" cy="586.2" r="2.75" fill="none" stroke="#222" stroke-width="1.2"/>
<circle cx="143" cy="588.3" r="2.75" fill="none" stroke="#222" stroke-width="1.2"/>
<circle cx="96.7" cy="591.3" r="2.75" fill="none" stroke="#222" stroke-width="1.2"/>
<circle cx="120.6" cy="593.2" r="2.75" fill="none" stroke="#222" stroke-width="1.2"/>
<circle cx="99" cy="603.2" r="2.75" fill="none" stroke="#222" stroke-width="1.2"/>
<circle cx="69.4" cy="620.7" r="2.75" fill="none" stroke="#222" stroke-width="1.2"/>
<circle cx="161.8" cy="554" r="2.75" fill="none" stroke="#222" stroke-width="1.2"/>
<circle cx="218.8" cy="563.4" r="2.75" fill="none" stroke="#222" stroke-width="1.2"/>
<circle cx="173.5" cy="600" r="2.75" fill="none" stroke="#222" stroke-width="1.2"/>
<circle cx="178.3" cy="614.4" r="2.75" fill="none" stroke="#222" stroke-width="1.2"/>
<circle cx="155.7" cy="623.5" r="2.75" fill="none" stroke="#222" stroke-width="1.2"/>
<circle cx="187.9" cy="645.7" r="2.75" fill="none" stroke="#222" stroke-width="1.2"/>
<circle cx="171.6" cy="657.2" r="2.75" fill="none" stroke="#222" stroke-width="1.2"/>
<circle cx="224.6" cy="660.4" r="2.75" fill="none" stroke="#222" stroke-width="1.2"/>
<circle cx="245" cy="658.8" r="2.75" fill="none" stroke="#222" stroke-width="1.2"/>
<path d="M61.8,600.4 V607 M61.8,603.6 H70.6" stroke="#111" stroke-width="1.6" fill="none"/>
<text x="50.5" y="676.3" font-size="13.5" fill="#5869ad">r=-0.58</text>
<text x="50.5" y="690.2" font-size="13.5" fill="#5869ad"><tspan font-style="italic">p</tspan>=0.001</text>
<rect x="43.5" y="472.5" width="211.90" height="226.10" fill="none" stroke="#6a6a6a" stroke-width="1.1"/>
<line x1="300.5" y1="688.3" x2="307" y2="688.3" stroke="#222" stroke-width="1.2"/>
<text x="292.8" y="691.4" font-size="8.8" text-anchor="end" fill="#222">0.0</text>
<line x1="300.5" y1="651.6" x2="307" y2="651.6" stroke="#222" stroke-width="1.2"/>
<text x="292.8" y="654.7" font-size="8.8" text-anchor="end" fill="#222">0.5</text>
<line x1="300.5" y1="614.8" x2="307" y2="614.8" stroke="#222" stroke-width="1.2"/>
<text x="292.8" y="617.9" font-size="8.8" text-anchor="end" fill="#222">1.0</text>
<line x1="300.5" y1="578.1" x2="307" y2="578.1" stroke="#222" stroke-width="1.2"/>
<text x="292.8" y="581.2" font-size="8.8" text-anchor="end" fill="#222">1.5</text>
<line x1="300.5" y1="541.3" x2="307" y2="541.3" stroke="#222" stroke-width="1.2"/>
<text x="292.8" y="544.4" font-size="8.8" text-anchor="end" fill="#222">2.0</text>
<line x1="300.5" y1="504.6" x2="307" y2="504.6" stroke="#222" stroke-width="1.2"/>
<text x="292.8" y="507.7" font-size="8.8" text-anchor="end" fill="#222">2.5</text>
<line x1="328.1" y1="698.7" x2="328.1" y2="703" stroke="#222" stroke-width="1.2"/>
<text x="328.1" y="713.8" font-size="8.6" text-anchor="middle" fill="#222">4</text>
<line x1="358.1" y1="698.7" x2="358.1" y2="703" stroke="#222" stroke-width="1.2"/>
<text x="358.1" y="713.8" font-size="8.6" text-anchor="middle" fill="#222">5</text>
<line x1="388.0" y1="698.7" x2="388.0" y2="703" stroke="#222" stroke-width="1.2"/>
<text x="388.0" y="713.8" font-size="8.6" text-anchor="middle" fill="#222">6</text>
<line x1="418.0" y1="698.7" x2="418.0" y2="703" stroke="#222" stroke-width="1.2"/>
<text x="418.0" y="713.8" font-size="8.6" text-anchor="middle" fill="#222">7</text>
<line x1="447.9" y1="698.7" x2="447.9" y2="703" stroke="#222" stroke-width="1.2"/>
<text x="447.9" y="713.8" font-size="8.6" text-anchor="middle" fill="#222">8</text>
<line x1="477.9" y1="698.7" x2="477.9" y2="703" stroke="#222" stroke-width="1.2"/>
<text x="477.9" y="713.8" font-size="8.6" text-anchor="middle" fill="#222">9</text>
<line x1="507.8" y1="698.7" x2="507.8" y2="703" stroke="#222" stroke-width="1.2"/>
<text x="507.8" y="713.8" font-size="8.6" text-anchor="middle" fill="#222">10</text>
<text x="0" y="0" transform="translate(274.8,595.6) rotate(-90)" font-size="9.85" text-anchor="middle" fill="#222" stroke="#222" stroke-width="0.25">Total TGF−β1 [ng/ml]</text>
<text x="417" y="728.7" font-size="10" text-anchor="middle" fill="#222">Vcf HR Corrected [circ/sec]</text>
<line x1="318.2" y1="562.7" x2="507.8" y2="645.8" stroke="#4a5ba6" stroke-width="1.2"/>
<circle cx="315.6" cy="513.8" r="2.75" fill="none" stroke="#222" stroke-width="1.2"/>
<circle cx="318" cy="562.7" r="2.75" fill="none" stroke="#222" stroke-width="1.2"/>
<circle cx="337.4" cy="566.3" r="2.75" fill="none" stroke="#222" stroke-width="1.2"/>
<circle cx="363.5" cy="566.2" r="2.75" fill="none" stroke="#222" stroke-width="1.2"/>
<circle cx="389.7" cy="556" r="2.75" fill="none" stroke="#222" stroke-width="1.2"/>
<circle cx="348.3" cy="573.7" r="2.75" fill="none" stroke="#222" stroke-width="1.2"/>
<circle cx="385" cy="570.6" r="2.75" fill="none" stroke="#222" stroke-width="1.2"/>
<circle cx="371.1" cy="582.6" r="2.75" fill="none" stroke="#222" stroke-width="1.2"/>
<circle cx="375.1" cy="581.8" r="2.75" fill="none" stroke="#222" stroke-width="1.2"/>
<circle cx="378.1" cy="578.8" r="2.75" fill="none" stroke="#222" stroke-width="1.2"/>
<circle cx="322.2" cy="586" r="2.75" fill="none" stroke="#222" stroke-width="1.2"/>
<circle cx="361.6" cy="591.1" r="2.75" fill="none" stroke="#222" stroke-width="1.2"/>
<circle cx="397.1" cy="588.1" r="2.75" fill="none" stroke="#222" stroke-width="1.2"/>
<circle cx="392" cy="593.4" r="2.75" fill="none" stroke="#222" stroke-width="1.2"/>
<circle cx="365.1" cy="603.1" r="2.75" fill="none" stroke="#222" stroke-width="1.2"/>
<circle cx="327.6" cy="620.7" r="2.75" fill="none" stroke="#222" stroke-width="1.2"/>
<circle cx="381.4" cy="623.5" r="2.75" fill="none" stroke="#222" stroke-width="1.2"/>
<circle cx="463.7" cy="563.5" r="2.75" fill="none" stroke="#222" stroke-width="1.2"/>
<circle cx="465.3" cy="614.2" r="2.75" fill="none" stroke="#222" stroke-width="1.2"/>
<circle cx="462.5" cy="645.8" r="2.75" fill="none" stroke="#222" stroke-width="1.2"/>
<circle cx="422.2" cy="657.3" r="2.75" fill="none" stroke="#222" stroke-width="1.2"/>
<circle cx="486.8" cy="660.3" r="2.75" fill="none" stroke="#222" stroke-width="1.2"/>
<circle cx="507.8" cy="658.9" r="2.75" fill="none" stroke="#222" stroke-width="1.2"/>
<text x="313.4" y="676.4" font-size="13.5" fill="#5869ad">r=-0.65</text>
<text x="313.4" y="690.5" font-size="13.5" fill="#5869ad"><tspan font-style="italic">p</tspan>&lt;0.001</text>
<rect x="307" y="472.5" width="210.70" height="226.20" fill="none" stroke="#6a6a6a" stroke-width="1.1"/>
</svg>
</body></html>
